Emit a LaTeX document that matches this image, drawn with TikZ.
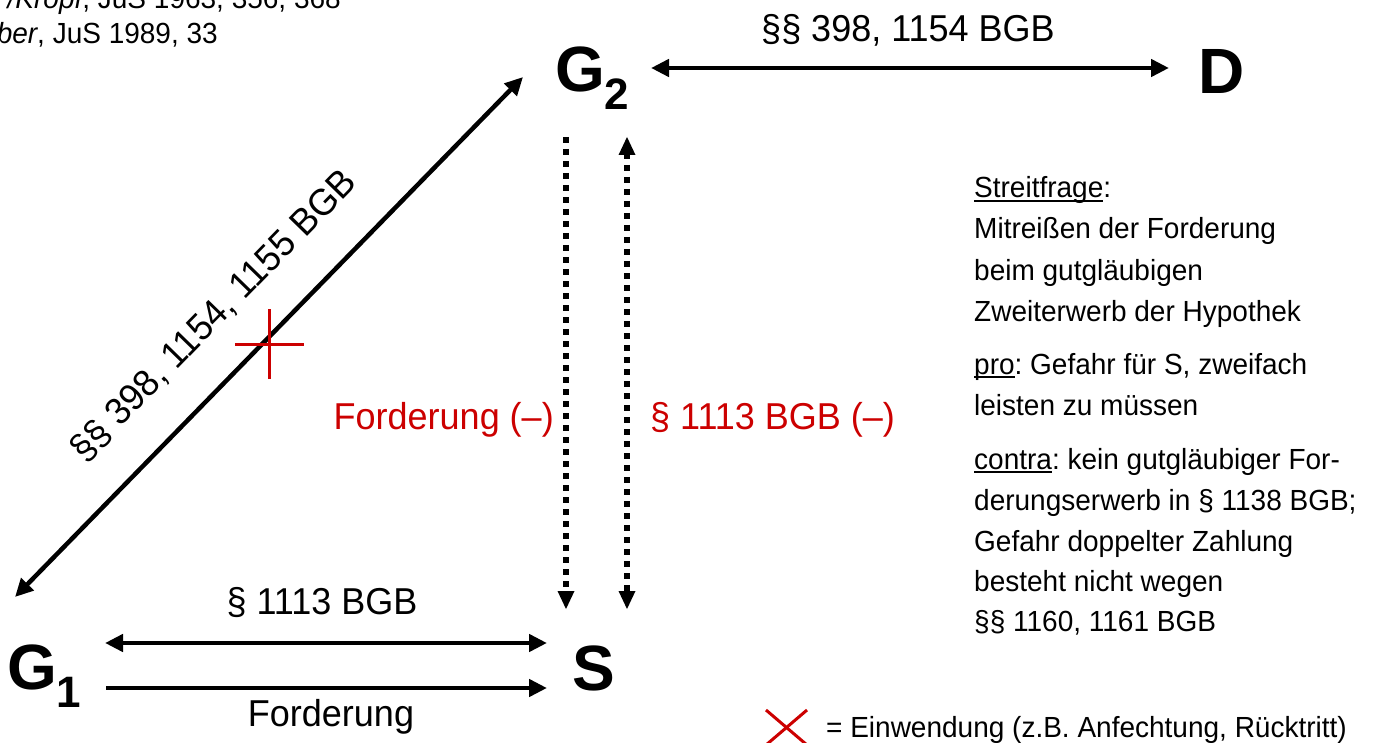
\documentclass[tikz,border=0pt]{standalone}
\usepackage{fontspec}
\usepackage{graphicx}
\setmainfont{Liberation Sans}
\usetikzlibrary{arrows.meta}
\definecolor{myred}{RGB}{204,0,0}
\frenchspacing
\newcommand\vs[1]{\scalebox{1}[1.04]{#1}}
\newcommand\uln[1]{\setbox0\hbox{#1}\rlap{\rule[-4pt]{\wd0}{2.2pt}}\box0}
\newcommand\bigparty[2]{{\fontsize{64}{66}\selectfont\bfseries #1}\ifx&#2&\else{\fontsize{44}{46}\selectfont\bfseries\raisebox{-18pt}{#2}}\fi}
\begin{document}
\begin{tikzpicture}[x=1pt,y=-1pt,
  party/.style={inner sep=0pt, anchor=base west},
  lbl/.style={inner sep=0pt, font=\fontsize{36}{40}\selectfont},
  redlbl/.style={lbl, text=myred},
  note/.style={inner sep=0pt, anchor=base west, font=\fontsize{28}{32}\selectfont},
  tip/.tip={Triangle[length=18pt,width=17pt]},
  conn/.style={line width=4.5pt, -tip},
  biconn/.style={line width=4.5pt, tip-tip},
  dotconn/.style={line width=6pt, dash pattern=on 6pt off 6pt},
  redx/.style={draw=myred, line width=3pt}
]
\useasboundingbox (0,0) rectangle (1375,743);
\clip (0,0) rectangle (1375,743);

% parties
\node[party] (G2) at (555,92) {\bigparty{G}{2}};
\node[party] (D) at (1198,94) {\bigparty{D}{}};
\node[party] (S) at (572,690) {\bigparty{S}{}};
\node[party] (G1) at (7,689) {\bigparty{G}{1}};

% connector end points
\coordinate (g2d1) at (651,68);
\coordinate (g2d2) at (1169,68);
\coordinate (diag1) at (15,597);
\coordinate (diag2) at (523,77);
\coordinate (gs1a) at (105,643);
\coordinate (gs1b) at (547,643);
\coordinate (gs2a) at (106,688);
\coordinate (gs2b) at (547,688);
\coordinate (dl1) at (566,137);
\coordinate (dl2) at (566,609);
\coordinate (dr1) at (627,137);
\coordinate (dr2) at (627,609);

\draw[biconn] (g2d1) -- (g2d2);
\draw[biconn] (diag1) -- (diag2);
\draw[biconn] (gs1a) -- (gs1b);
\draw[conn] (gs2a) -- (gs2b);
\draw[dotconn] (dl1) -- ([yshift=16pt]dl2);
\draw[line width=0pt, -tip] ([yshift=17pt]dl2) -- (dl2);
\draw[dotconn] ([yshift=-16pt]dr1) -- ([yshift=16pt]dr2);
\draw[line width=0pt, -tip] ([yshift=-17pt]dr1) -- (dr1);
\draw[line width=0pt, -tip] ([yshift=17pt]dr2) -- (dr2);

% labels
\node[lbl] (l1) at (908,30) {\vs{§§ 398, 1154 BGB}};
\node[lbl, rotate=45.7] (l2) at (214,316) {\vs{§§ 398, 1154, 1155 BGB}};
\node[lbl] (l3) at (322,603) {\vs{§ 1113 BGB}};
\node[lbl] (l4) at (331,717) {\vs{Forderung}};
\node[redlbl, anchor=east] (l5) at (554,420) {\vs{Forderung (–)}};
\node[redlbl, anchor=west] (l6) at (650,420) {\vs{§ 1113 BGB (–)}};

% red cross (Einwendung)
\coordinate (cx) at (269,344);
\draw[redx] ([yshift=-35pt]cx) -- ([yshift=35pt]cx);
\draw[redx] ([xshift=-34pt]cx) -- ([xshift=35pt]cx);

% top-left literature
\node[note, anchor=base east] (lit1) at (341,9) {\vs{\textit{/Kropf}, JuS 1963, 356, 368}};
\node[note, anchor=base east] (lit2) at (218,44) {\vs{\textit{ber}, JuS 1989, 33}};

% right notes
\node[note] (n1) at (974,198) {\vs{\uln{Streitfrage}:}};
\node[note] (n2) at (974,239) {\vs{Mitreißen der Forderung}};
\node[note] (n3) at (974,280) {\vs{beim gutgläubigen}};
\node[note] (n4) at (974,321) {\vs{Zweiterwerb der Hypothek}};
\node[note] (n5) at (974,374) {\vs{\uln{pro}: Gefahr für S, zweifach}};
\node[note] (n6) at (974,415) {\vs{leisten zu müssen}};
\node[note] (n7) at (974,469) {\vs{\uln{contra}: kein gutgläubiger For-}};
\node[note] (n8) at (974,510) {\vs{derungserwerb in § 1138 BGB;}};
\node[note] (n9) at (974,551) {\vs{Gefahr doppelter Zahlung}};
\node[note] (n10) at (974,591) {\vs{besteht nicht wegen}};
\node[note] (n11) at (974,631) {\vs{§§ 1160, 1161 BGB}};

% legend
\coordinate (lx) at (786,728);
\draw[redx] ([shift={(-20pt,-17pt)}]lx) -- ([shift={(21pt,18pt)}]lx);
\draw[redx] ([shift={(-20pt,18pt)}]lx) -- ([shift={(21pt,-17pt)}]lx);
\node[note] (leg) at (826,737) {\vs{= Einwendung (z.B. Anfechtung, Rücktritt)}};
\end{tikzpicture}
\end{document}
